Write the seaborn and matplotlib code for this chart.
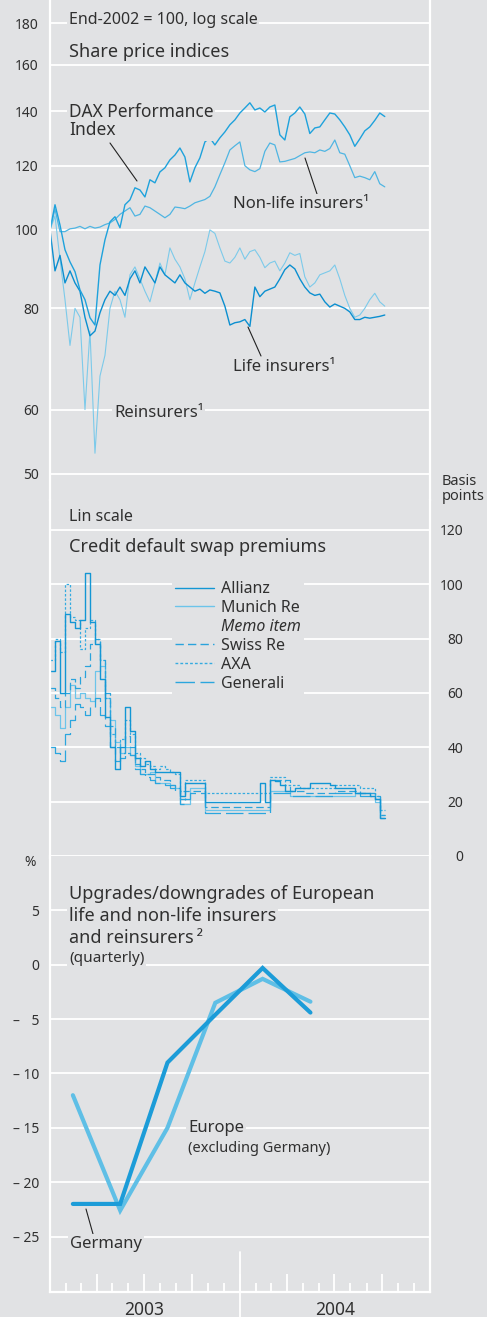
import pandas as pd
import matplotlib
matplotlib.use("Agg")
import matplotlib.pyplot as plt
import matplotlib.dates as mdates
from matplotlib.lines import Line2D
from matplotlib.ticker import NullLocator
import seaborn as sns


BG = "#e1e2e4"
INK = "#303030"
W, H = 487, 1317

# x grid for the daily-ish series (read every ~10 days off the picture)
share_dates = pd.date_range("2003-01-01", "2004-10-06", periods=68)

dax = [100.0, 107.4, 101.4, 94.5, 91.3, 88.8, 84.3, 82.0, 77.9, 76.3,
       90.5, 97.2, 102.3, 103.8, 100.6, 107.4, 108.9, 112.7, 112.0, 109.8,
       115.3, 114.3, 117.9, 119.3, 122.0, 123.7, 126.2, 123.0, 114.6, 119.3,
       122.7, 128.4, 129.9, 127.3, 129.9, 132.1, 134.8, 136.7, 139.4, 141.4,
       143.5, 140.6, 141.4, 139.8, 141.8, 142.6, 131.0, 129.1, 137.9, 139.4,
       141.8, 139.0, 131.5, 133.6, 134.0, 136.7, 139.4, 139.0, 136.7, 134.0,
       131.0, 126.8, 129.5, 132.5, 134.0, 136.5, 139.4, 138.0]
non_life = [100.0, 106.0, 99.5, 99.5, 100.3, 100.5, 101.0, 100.3, 101.0, 100.5,
            100.8, 101.5, 102.0, 103.0, 104.5, 105.5, 106.5, 104.0, 104.5, 107.0,
            106.5, 105.5, 104.5, 103.5, 104.5, 106.7, 106.5, 106.2, 107.0, 108.0,
            108.5, 109.0, 110.0, 113.0, 117.0, 121.0, 125.5, 127.0, 128.4, 120.0,
            118.6, 118.0, 119.0, 125.0, 128.0, 127.3, 121.3, 121.5, 122.0, 122.5,
            123.5, 124.5, 124.8, 124.5, 125.5, 125.0, 126.0, 129.1, 124.5, 124.0,
            120.0, 116.0, 116.5, 116.0, 115.3, 118.0, 114.0, 113.0]
life = [100.0, 89.0, 93.0, 86.0, 89.0, 86.0, 84.0, 78.0, 74.0, 75.0,
        79.0, 82.0, 84.0, 83.0, 85.0, 83.0, 87.0, 89.0, 86.0, 90.0,
        88.0, 86.0, 90.0, 88.0, 87.0, 86.0, 88.0, 86.0, 85.0, 84.0,
        84.5, 83.5, 84.3, 84.0, 83.6, 80.5, 76.3, 76.8, 77.0, 77.5,
        76.0, 85.0, 82.7, 84.0, 84.5, 85.0, 87.0, 89.3, 90.5, 89.5,
        87.0, 85.0, 83.6, 83.0, 83.3, 81.5, 80.3, 81.0, 80.5, 80.0,
        79.2, 77.5, 77.5, 78.0, 77.8, 78.0, 78.2, 78.5]
reinsurers = [100.0, 104.0, 92.0, 82.0, 72.0, 80.0, 78.0, 60.0, 75.0, 53.0,
              66.0, 70.0, 80.0, 84.0, 82.0, 78.0, 88.0, 90.0, 87.0, 84.0,
              81.5, 86.0, 91.0, 88.0, 95.0, 92.0, 90.0, 87.0, 82.0, 86.0,
              90.0, 94.0, 100.0, 99.0, 95.0, 91.5, 91.0, 92.5, 95.0, 92.0,
              94.0, 94.5, 92.5, 89.8, 91.0, 91.5, 89.0, 91.0, 93.7, 93.0,
              93.5, 87.5, 85.0, 86.0, 88.0, 88.5, 89.0, 90.5, 87.0, 83.0,
              80.0, 78.0, 78.5, 80.0, 82.0, 83.5, 81.5, 80.5]

share_ticks = [50, 60, 80, 100, 120, 140, 160, 180]

# credit default swap premiums, basis points
allianz = [68, 79, 60, 89, 86, 84, 87, 104, 86, 78,
           65, 51, 40, 32, 40, 55, 46, 36, 33, 35,
           32, 31, 31, 31, 31, 31, 22, 27, 27, 27,
           27, 20, 20, 20, 20, 20, 20, 20, 20, 20,
           20, 20, 27, 20, 28, 27.5, 26, 24, 24, 25,
           25, 25, 27, 27, 27, 27, 26, 25, 25, 25,
           25, 23, 23, 23, 22, 21, 14, 14]
munich_re = [55, 52, 47, 55, 63, 58, 60, 58, 57, 68,
             70, 58, 50, 42, 38, 40, 37, 33, 30, 30,
             31, 27, 27, 27, 26, 25, 19, 19, 25, 25,
             25, 17, 17, 17, 17, 17, 17, 17, 17, 17,
             17, 17, 17, 17, 24, 24, 24, 24, 22, 22,
             22, 22, 22, 22, 22, 22, 22, 22, 22, 22,
             22, 23, 23, 23, 23, 20, 15, 15]
swiss_re = [62, 58, 55, 60, 65, 62, 66, 70, 78, 80,
            72, 60, 48, 40, 38, 44, 40, 34, 32, 30,
            30, 29, 28, 28, 26, 25, 21, 24, 24, 24,
            24, 18, 18, 18, 18, 18, 18, 18, 18, 18,
            18, 18, 18, 18, 28, 28, 28, 28, 24, 24,
            24, 23, 23, 23, 23, 23, 23, 24, 24, 24,
            24, 24, 23, 23, 23, 22, 15, 15]
axa = [72, 80, 75, 100, 88, 87, 76, 84, 87, 80,
       72, 58, 45, 40, 43, 50, 45, 38, 36, 34,
       33, 32, 33, 32, 31, 30, 24, 28, 28, 28,
       28, 23, 23, 23, 23, 23, 23, 23, 23, 23,
       23, 23, 23, 23, 29, 29, 29, 26, 26, 26,
       25, 25, 25, 25, 25, 25, 25, 26, 26, 26,
       26, 26, 25, 25, 25, 22, 17, 17]
generali = [40, 38, 35, 45, 50, 56, 55, 52, 55, 58,
            52, 48, 40, 35, 36, 38, 37, 32, 30, 29,
            28, 27, 27, 26, 25, 24, 19, 21, 23, 23,
            23, 16, 16, 16, 16, 16, 16, 16, 16, 16,
            16, 16, 16, 16, 23, 23, 23, 23, 22, 22,
            22, 22, 22, 22, 22, 22, 22, 23, 23, 23,
            23, 23, 22, 22, 22, 21, 14, 14]

cds_ticks = [0, 20, 40, 60, 80, 100, 120]

# rating changes, quarterly
quarter_dates = pd.to_datetime(["2003-02-14", "2003-05-16", "2003-08-15",
                                "2003-11-15", "2004-02-14", "2004-05-16"])
germany = [-22.0, -22.0, -9.0, -4.6, -0.3, -4.4]
europe = [-12.0, -22.6, -15.0, -3.5, -1.3, -3.4]

rating_ticks = [-25, -20, -15, -10, -5, 0, 5]
rating_tick_labels = ["– 25", "– 20", "– 15", "– 10", "– \u20075", "0", "5"]

years = ["2003", "2004"]


def fx(px):
    return px / W


def fy(py):
    return 1 - py / H


def note(fig, x, y, s, size, **kw):
    fig.text(fx(x), fy(y), s, fontsize=size, color=INK, ha=kw.pop("ha", "left"),
             va="center", bbox=dict(facecolor=BG, edgecolor="none", pad=1.2), **kw)


def leader(fig, x0, y0, x1, y1):
    fig.add_artist(Line2D([fx(x0), fx(x1)], [fy(y0), fy(y1)],
                          transform=fig.transFigure, color="#222222", lw=0.8))


def draw(ax, dates, values, color, lw, **kw):
    df = pd.DataFrame({"date": dates, "value": values})
    sns.lineplot(data=df, x="date", y="value", ax=ax, color=color,
                 linewidth=lw, estimator=None, **kw)


def style_axis(ax, top, bottom):
    ax.set_position([fx(50), fy(bottom), fx(380), (bottom - top) / H])
    ax.set_facecolor(BG)
    ax.set_xlim(pd.Timestamp("2003-01-01"), pd.Timestamp("2005-01-01"))
    ax.set_xlabel("")
    ax.set_ylabel("")
    ax.xaxis.grid(False)
    ax.yaxis.grid(True, color="white", lw=1.3)
    for side in ["top", "bottom"]:
        ax.spines[side].set_visible(False)
    for side in ["left", "right"]:
        ax.spines[side].set_visible(True)
        ax.spines[side].set_color("white")
        ax.spines[side].set_linewidth(1.6)
    ax.tick_params(axis="y", length=0, labelsize=10, labelcolor=INK, pad=8)
    ax.tick_params(axis="x", which="both", length=0, labelbottom=False)


def main():
    sns.set_theme(style="darkgrid", rc={"axes.facecolor": BG, "figure.facecolor": BG,
                                        "grid.color": "white"})
    plt.rcParams["font.family"] = ["Noto Sans", "DejaVu Sans"]

    fig = plt.figure(figsize=(W / 100, H / 100), dpi=100)
    ax1 = fig.add_axes([0, 0, 1, 1])
    ax2 = fig.add_axes([0, 0, 1, 1])
    ax3 = fig.add_axes([0, 0, 1, 1])

    # share prices (log)
    draw(ax1, share_dates, reinsurers, "#7ccaea", 0.8)
    draw(ax1, share_dates, non_life, "#4fb5e2", 0.9)
    draw(ax1, share_dates, life, "#0b8fd0", 1.0)
    draw(ax1, share_dates, dax, "#1ea2dc", 1.0)
    ax1.set_yscale("log")
    style_axis(ax1, 0, 500)
    ax1.set_ylim(46.4, 192.2)
    ax1.set_yticks(share_ticks)
    ax1.set_yticklabels([str(t) for t in share_ticks])
    ax1.yaxis.set_minor_locator(NullLocator())

    # CDS premiums
    steps = dict(drawstyle="steps-post")
    draw(ax2, share_dates, munich_re, "#6cc4ea", 0.9, **steps)
    draw(ax2, share_dates, generali, "#2ba6de", 0.9, linestyle=(0, (14, 4)), **steps)
    draw(ax2, share_dates, axa, "#35abe0", 0.9, linestyle=(0, (2, 1.5)), **steps)
    draw(ax2, share_dates, swiss_re, "#2aa3dc", 0.9, linestyle=(0, (6, 3)), **steps)
    draw(ax2, share_dates, allianz, "#1396d4", 1.0, **steps)
    style_axis(ax2, 500, 858)
    ax2.set_ylim(-0.74, 131)
    ax2.set_yticks(cds_ticks)
    ax2.set_yticklabels([str(t) for t in cds_ticks])
    ax2.yaxis.tick_right()
    ax2.tick_params(axis="y", length=0, pad=24)
    for lbl in ax2.get_yticklabels():
        lbl.set_horizontalalignment("right")

    handles = [Line2D([], [], color="#1396d4", lw=1.0),
               Line2D([], [], color="#6cc4ea", lw=1.0),
               Line2D([], [], color=BG, lw=0),
               Line2D([], [], color="#2aa3dc", lw=1.0, linestyle=(0, (6, 3))),
               Line2D([], [], color="#35abe0", lw=1.0, linestyle=(0, (2, 1.5))),
               Line2D([], [], color="#2ba6de", lw=1.0, linestyle=(0, (14, 4)))]
    names = ["Allianz", "Munich Re", "Memo item", "Swiss Re", "AXA", "Generali"]
    leg = ax2.legend(handles, names, loc="upper left", bbox_to_anchor=(fx(172), fy(578)),
                     bbox_transform=fig.transFigure, fontsize=11.5, frameon=True,
                     facecolor=BG, edgecolor="none", framealpha=1, fancybox=False,
                     handlelength=2.4, handletextpad=0.45, labelspacing=0.18,
                     borderpad=0.2, borderaxespad=0)
    for t in leg.get_texts():
        t.set_color(INK)
    leg.get_texts()[2].set_style("italic")

    # rating changes
    draw(ax3, quarter_dates, europe, "#5fbfe6", 3.0, solid_joinstyle="miter")
    draw(ax3, quarter_dates, germany, "#1c9cd8", 3.0, solid_joinstyle="miter")
    style_axis(ax3, 856, 1292)
    ax3.set_ylim(-30.1, 10.0)
    ax3.set_yticks(rating_ticks)
    ax3.set_yticklabels(rating_tick_labels)
    ax3.spines["bottom"].set_visible(True)
    ax3.spines["bottom"].set_color("white")
    ax3.spines["bottom"].set_linewidth(1.6)
    ax3.xaxis.set_major_locator(mdates.MonthLocator(bymonth=(1, 4, 7, 10)))
    ax3.xaxis.set_minor_locator(mdates.MonthLocator())
    ax3.tick_params(axis="x", which="major", direction="in", length=13, width=1.3,
                    color="white", bottom=True, labelbottom=False)
    ax3.tick_params(axis="x", which="minor", direction="in", length=6.5, width=1.3,
                    color="white", bottom=True)
    ax3.axvline(pd.Timestamp("2004-01-01"), ymin=-25 / 436, ymax=40 / 436,
                color="white", lw=1.3, clip_on=False)
    for yr in years:
        ax3.text(pd.Timestamp(f"{yr}-07-02"), -18 / 436, yr,
                 transform=ax3.get_xaxis_transform(), ha="center", va="center",
                 fontsize=12.5, color=INK)

    # annotations
    note(fig, 69, 20, "End-2002 = 100, log scale", 11.5)
    note(fig, 69, 52, "Share price indices", 13)
    note(fig, 69, 121, "DAX Performance\nIndex", 12.5, linespacing=1.0)
    leader(fig, 110, 143, 137, 181)
    note(fig, 233, 204, "Non-life insurers\u00b9", 12)
    leader(fig, 305, 158, 317, 194)
    note(fig, 233, 367, "Life insurers\u00b9", 12)
    leader(fig, 248, 327, 261, 356)
    note(fig, 114, 413, "Reinsurers\u00b9", 12)

    fig.text(fx(442), fy(489), "Basis\npoints", fontsize=10.5, color=INK,
             ha="left", va="center", linespacing=1.0)
    note(fig, 69, 517, "Lin scale", 11.5)
    note(fig, 69, 547, "Credit default swap premiums", 13)

    fig.text(fx(30), fy(862), "%", fontsize=10, color=INK, ha="center", va="center")
    note(fig, 69, 894, "Upgrades/downgrades of European", 13)
    note(fig, 69, 916, "life and non-life insurers", 13)
    note(fig, 69, 938, "and reinsurers\u2009\u00b2", 13)
    note(fig, 69, 958, "(quarterly)", 11)
    note(fig, 188, 1128, "Europe", 12)
    note(fig, 188, 1148, "(excluding Germany)", 10.5)
    note(fig, 70, 1244, "Germany", 12)
    leader(fig, 86, 1209, 93, 1234)

    fig.savefig("out.png", dpi=100, facecolor=BG)


if __name__ == "__main__":
    main()
